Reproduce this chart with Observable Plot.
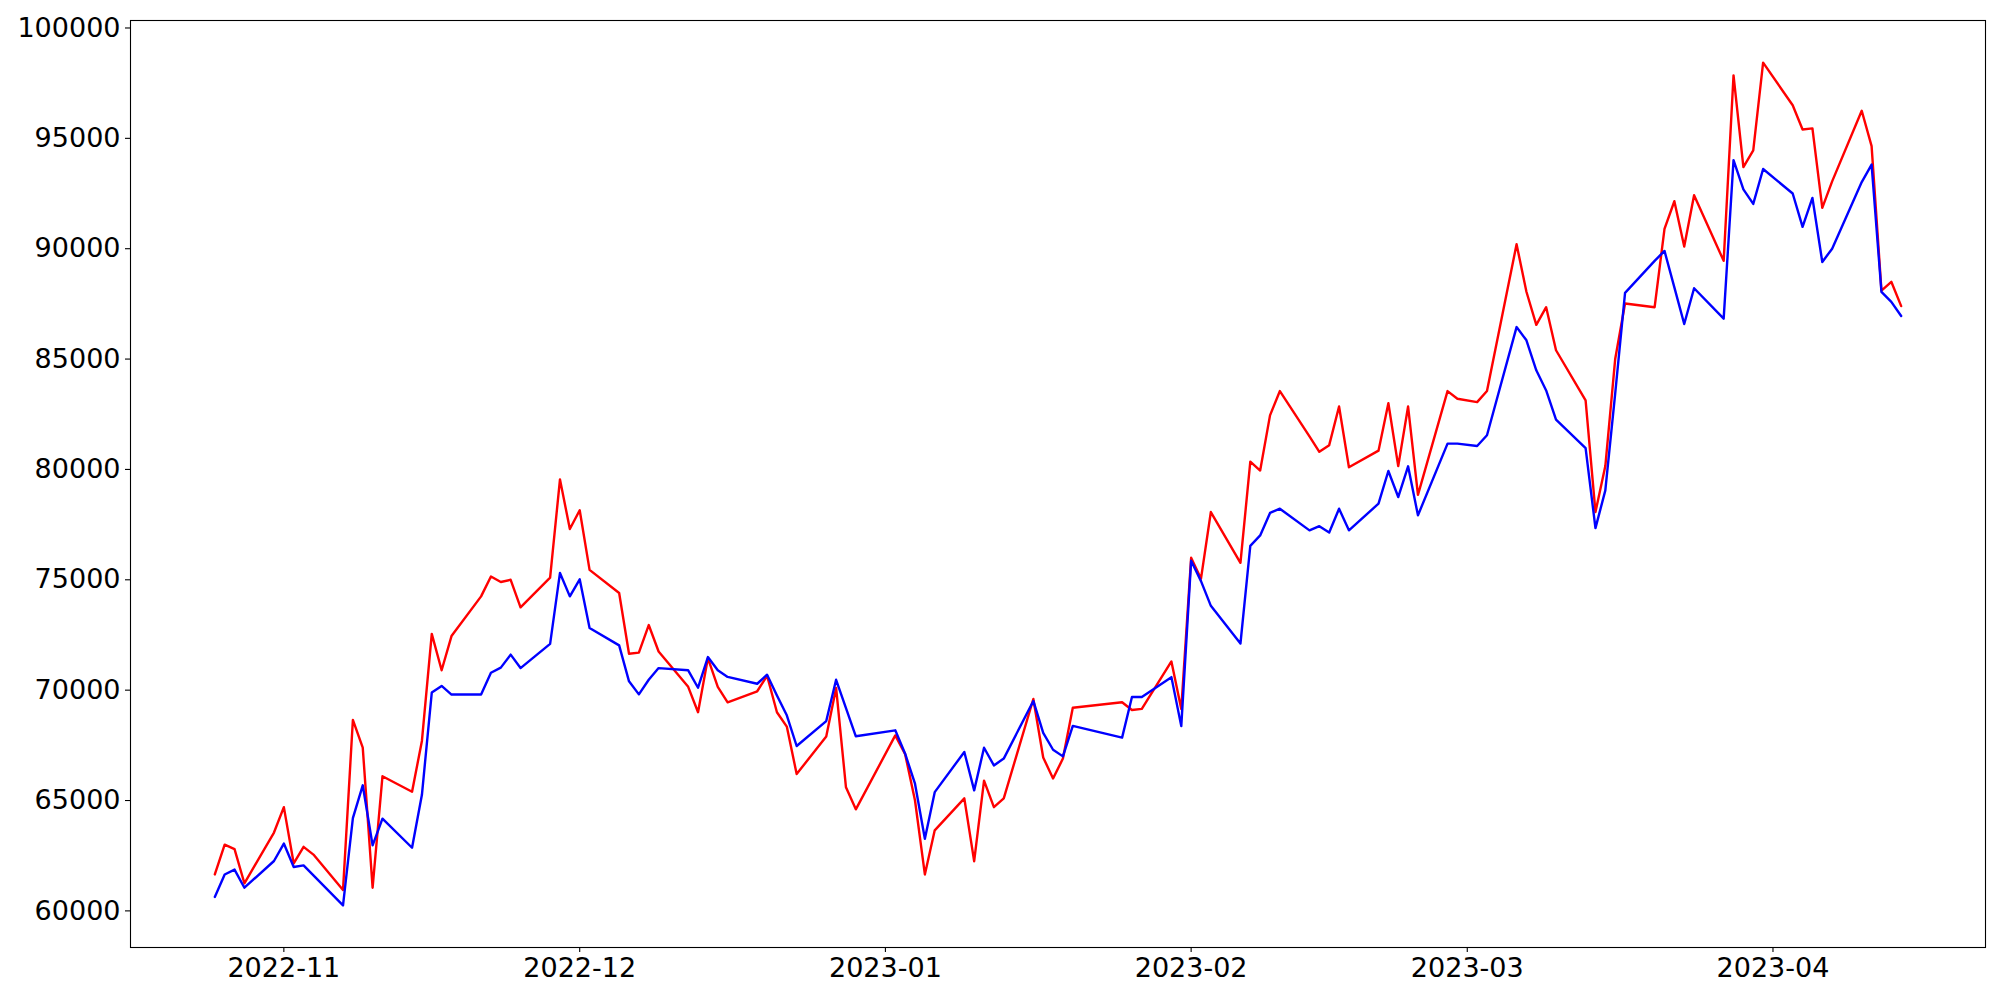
<!DOCTYPE html>
<html>
<head>
<meta charset="utf-8">
<script src="https://cdn.jsdelivr.net/npm/d3@7"></script>
<script src="https://cdn.jsdelivr.net/npm/@observablehq/plot@0.6"></script>
<style>
  html, body { margin: 0; padding: 0; background: #ffffff; }
  #chart svg { display: block; }
</style>
</head>
<body>
<div id="chart"></div>
<script>
const dates = [
  "2022-10-25","2022-10-26","2022-10-27","2022-10-28","2022-10-31",
  "2022-11-01","2022-11-02","2022-11-03","2022-11-04","2022-11-07","2022-11-08","2022-11-09","2022-11-10","2022-11-11",
  "2022-11-14","2022-11-15","2022-11-16","2022-11-17","2022-11-18","2022-11-21","2022-11-22","2022-11-23","2022-11-24",
  "2022-11-25","2022-11-28","2022-11-29","2022-11-30",
  "2022-12-01","2022-12-02","2022-12-05","2022-12-06","2022-12-07","2022-12-08","2022-12-09","2022-12-12","2022-12-13",
  "2022-12-14","2022-12-15","2022-12-16","2022-12-19","2022-12-20","2022-12-21","2022-12-22","2022-12-23","2022-12-26",
  "2022-12-27","2022-12-28","2022-12-29",
  "2023-01-02","2023-01-03","2023-01-04","2023-01-05","2023-01-06","2023-01-09","2023-01-10","2023-01-11","2023-01-12",
  "2023-01-13","2023-01-16","2023-01-17","2023-01-18","2023-01-19","2023-01-20","2023-01-25","2023-01-26","2023-01-27",
  "2023-01-30","2023-01-31",
  "2023-02-01","2023-02-02","2023-02-03","2023-02-06","2023-02-07","2023-02-08","2023-02-09","2023-02-10","2023-02-13",
  "2023-02-14","2023-02-15","2023-02-16","2023-02-17","2023-02-20","2023-02-21","2023-02-22","2023-02-23","2023-02-24",
  "2023-02-27","2023-02-28",
  "2023-03-02","2023-03-03","2023-03-06","2023-03-07","2023-03-08","2023-03-09","2023-03-10","2023-03-13","2023-03-14",
  "2023-03-15","2023-03-16","2023-03-17","2023-03-20","2023-03-21","2023-03-22","2023-03-23","2023-03-24","2023-03-27",
  "2023-03-28","2023-03-29","2023-03-30","2023-03-31",
  "2023-04-03","2023-04-04","2023-04-05","2023-04-06","2023-04-07","2023-04-10","2023-04-11","2023-04-12","2023-04-13",
  "2023-04-14"
];

const redSeries = [
  61650, 63000, 62800, 61250, 63550,
  64700, 62150, 62900, 62550, 60950, 68650, 67400, 61050, 66100, 65400, 67700, 72550, 70900, 72450, 74250, 75150, 74900, 75000, 73750, 75100, 79550, 77300,
  78150, 75450, 74400, 71650, 71700, 72950, 71750, 70150, 69000, 71450, 70150, 69450, 69950, 70650, 69000, 68350, 66200, 67900, 70100, 65600, 64600,
  67950, 67100, 65000, 61650, 63650, 65100, 62250, 65900, 64700, 65100, 69600, 66950, 66000, 66900, 69200, 69450, 69100, 69150, 71300, 69150,
  76000, 75050, 78070, 75770, 80350, 79950, 82450, 83550, 81500, 80800, 81100, 82850, 80100, 80850, 83000, 80150, 82850, 78850, 83550, 83200,
  83050, 83550, 90200, 88050, 86550, 87350, 85400, 83130, 78070, 80150, 85000, 87520, 87350, 90900, 92150, 90100, 92420, 89450, 97850, 93700, 94450, 98430,
  96500, 95400, 95450, 91850, 93050, 96250, 94650, 88100, 88500, 87400
];

const blueSeries = [
  60630, 61650, 61870, 61050, 62260,
  63050, 61990, 62060, 61610, 60250, 64200, 65690, 62970, 64180, 62860, 65260, 69890, 70190, 69800, 69800, 70790, 71020, 71610, 71000, 72100, 75310, 74250,
  75020, 72820, 72030, 70400, 69810, 70470, 71000, 70900, 70110, 71500, 70900, 70600, 70290, 70700, 69760, 68860, 67470, 68600, 70470, 69190, 67910,
  68180, 67120, 65760, 63270, 65380, 67200, 65460, 67390, 66590, 66900, 69510, 68060, 67300, 67000, 68380, 67850, 69690, 69690, 70590, 68370,
  75860, 74940, 73820, 72110, 76540, 77010, 78030, 78220, 77240, 77430, 77140, 78220, 77240, 78450, 79930, 78750, 80140, 77920, 81170, 81170,
  81060, 81550, 86450, 85850, 84490, 83580, 82260, 80970, 77340, 79050, 83430, 88000, 89450, 89900, 88250, 86590, 88210, 86830, 94010, 92690, 92030, 93610,
  92500, 90990, 92300, 89400, 90000, 93020, 93810, 88040, 87590, 86950
];

const xTickDates = ["2022-11-01","2022-12-01","2023-01-01","2023-02-01","2023-03-01","2023-04-01"];
const yTickValues = [60000, 65000, 70000, 75000, 80000, 85000, 90000, 95000, 100000];

const parse = d3.utcParse("%Y-%m-%d");
const table = dates.map((d, i) => ({date: parse(d), red: redSeries[i], blue: blueSeries[i]}));

// matplotlib-like 5% auto margins
const [x0, x1] = d3.extent(table, d => d.date);
const xPad = (x1 - x0) * 0.05;
const allY = redSeries.concat(blueSeries);
const [y0, y1] = d3.extent(allY);
const yPad = (y1 - y0) * 0.05;

const font = "DejaVu Sans";
const fs = 27;

const chart = Plot.plot({
  width: 2000,
  height: 1000,
  marginLeft: 130,
  marginRight: 15,
  marginTop: 20,
  marginBottom: 53,
  style: {fontFamily: font, fontSize: fs + "px", background: "#ffffff", color: "#000000"},
  x: {type: "utc", domain: [new Date(+x0 - xPad), new Date(+x1 + xPad)]},
  y: {domain: [y0 - yPad, y1 + yPad]},
  marks: [
    Plot.lineY(table, {x: "date", y: "red", stroke: "#ff0000", strokeWidth: 2.4, curve: "linear"}),
    Plot.lineY(table, {x: "date", y: "blue", stroke: "#0000ff", strokeWidth: 2.4, curve: "linear"}),
    Plot.frame({stroke: "#000000", strokeWidth: 1.1}),
    Plot.axisY({
      ticks: yTickValues, tickFormat: d3.format("d"), tickSize: 5, tickPadding: 5,
      fontSize: fs, label: null, strokeWidth: 1.1
    }),
    Plot.axisX({
      ticks: xTickDates.map(parse), tickFormat: d3.utcFormat("%Y-%m"), tickSize: 5, tickPadding: 5,
      fontSize: fs, label: null, strokeWidth: 1.1
    })
  ]
});
document.getElementById("chart").appendChild(chart);
</script>
</body>
</html>
